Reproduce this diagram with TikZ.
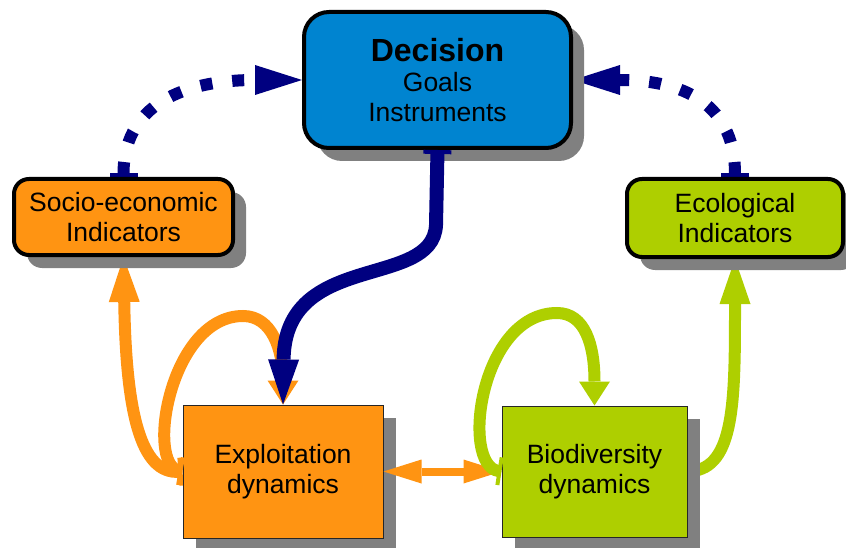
\documentclass[tikz,border=0pt]{standalone}
\usepackage{fontspec}
\setmainfont{Liberation Sans}
\usetikzlibrary{arrows.meta,shadows}
\definecolor{dblue}{RGB}{0,132,208}
\definecolor{orng}{RGB}{255,148,18}
\definecolor{grn}{RGB}{174,207,0}
\definecolor{navyc}{RGB}{0,0,128}
\definecolor{shgray}{RGB}{128,128,128}
\pgfdeclarelayer{bg}
\pgfsetlayers{bg,main}
\begin{document}
\begin{tikzpicture}[x=1pt,y=-1pt,
  txt/.style={font=\fontsize{26.5}{30}\selectfont, align=center, text=black, inner sep=0pt},
  shad/.style={drop shadow={shadow xshift=13pt, shadow yshift=-13pt, fill=shgray, opacity=1}},
  rbox/.style={txt, shad, draw=black, line width=4pt, rounded corners=15pt},
  sbox/.style={txt, shad, draw=black!85, line width=1pt},
  dotc/.style={navyc, line width=12pt, dash pattern=on 12pt off 20pt,
    {Bar[width=28pt,line width=4pt]}-{Triangle[length=47pt,width=30pt,line width=0pt]}},
  upc/.style={line width=12pt, {Bar[width=28pt,line width=4pt]}-{Triangle[length=45pt,width=31pt,line width=0pt]}},
  loopc/.style={line width=12pt, {Bar[width=28pt,line width=4pt]}-{Triangle[length=24pt,width=31pt,line width=0pt]}},
  dblc/.style={orng, line width=8pt, {Triangle[length=38pt,width=24pt,line width=0pt]}-{Triangle[length=38pt,width=24pt,line width=0pt]}},
  navyarr/.style={navyc, line width=14pt, {Bar[width=28pt,line width=4pt]}-{Triangle[length=45pt,width=31pt,line width=0pt]}}
]
\useasboundingbox (0,0) rectangle (846,548);

% boxes
\node[rbox, fill=dblue, minimum width=267pt, minimum height=136pt, rounded corners=25pt] (dec) at (437.5,80)
  {{\fontsize{32}{34}\selectfont\bfseries Decision}\\Goals\\Instruments};
\node[rbox, fill=orng, minimum width=219pt, minimum height=76pt] (soc) at (123.5,217) {Socio-economic\\Indicators};
\node[rbox, fill=grn, minimum width=216pt, minimum height=78pt] (eco) at (735,218) {Ecological\\Indicators};
\node[sbox, fill=orng, minimum width=200pt, minimum height=133pt] (exp) at (283,471.5) {Exploitation\\dynamics};
\node[sbox, fill=grn, minimum width=185pt, minimum height=131pt] (bio) at (594.5,471.5) {Biodiversity\\dynamics};

% connectors behind the boxes
\begin{pgfonlayer}{bg}
\draw[dotc] (soc.north) .. controls +(0,-80) and +(-105,0) .. (dec.west);
\draw[dotc] (eco.north) .. controls +(0,-80) and +(100,0) .. (dec.east);
\draw[orng, upc] (exp.west) .. controls (140,475) and (126,410) .. (soc.south);
\draw[grn, upc] (bio.east) .. controls (735,468) and (735,400) .. (eco.south);
\end{pgfonlayer}

% connectors in front
\draw[dblc] (exp.east) -- (bio.west);
\draw[orng, loopc] (exp.west) .. controls (145,465) and (170,316) .. (243,316)
  .. controls (272,316) and (283,350) .. (exp.north);
\draw[grn, loopc] (bio.west) .. controls (460,465) and (480,313) .. (557,313)
  .. controls (585,313) and (594.5,345) .. (bio.north);
\draw[navyarr] (dec.south) -- (436,225) .. controls (433,290) and (285,250) .. (exp.north);
\end{tikzpicture}
\end{document}
